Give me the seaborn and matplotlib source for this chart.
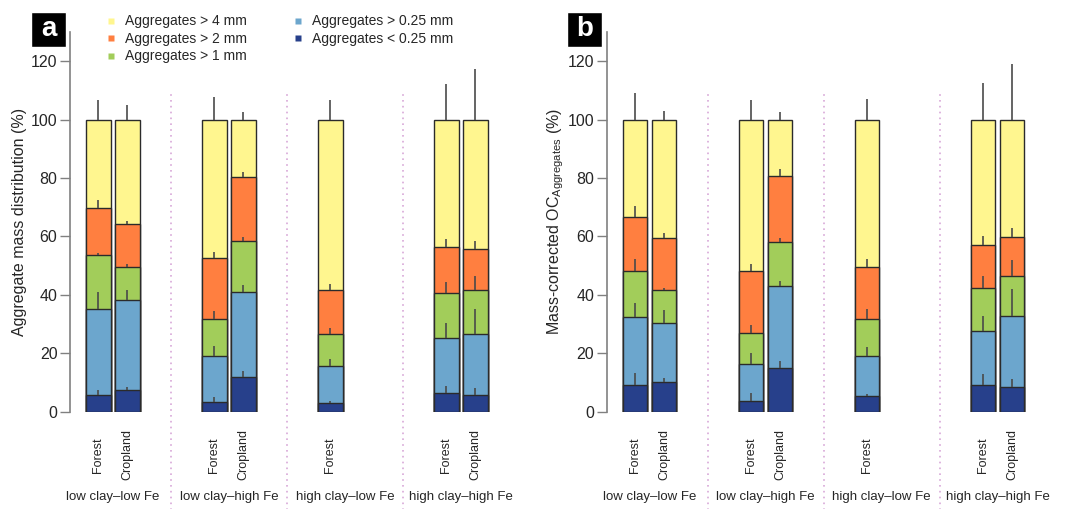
import numpy as np
import pandas as pd
import matplotlib
matplotlib.use('Agg')
from matplotlib import pyplot as plt
from matplotlib.lines import Line2D
from matplotlib.patches import Rectangle
import seaborn as sns

groups = ['low clay–low Fe', 'low clay–high Fe', 'high clay–low Fe', 'high clay–high Fe']
bar_group = [0, 0, 1, 1, 2, 3, 3]
bar_land = ['Forest', 'Cropland', 'Forest', 'Cropland', 'Forest', 'Forest', 'Cropland']

classes = ['Aggregates < 0.25 mm', 'Aggregates > 0.25 mm', 'Aggregates > 1 mm',
           'Aggregates > 2 mm', 'Aggregates > 4 mm']
class_colors = ['#27408B', '#6CA6CD', '#A2CD5A', '#FF7F40', '#FFF68F']

# (a) aggregate mass distribution (%), segment means and SDs
mass_lt025 = [5.6, 7.4, 3.3, 11.9, 3.0, 6.3, 5.8]
mass_gt025 = [29.4, 30.7, 15.7, 29.0, 12.6, 19.1, 20.8]
mass_gt1 = [18.5, 11.5, 12.6, 17.6, 11.0, 15.4, 15.0]
mass_gt2 = [16.3, 14.6, 20.9, 21.7, 15.2, 15.6, 14.0]
mass_gt4 = [30.2, 35.8, 47.5, 19.8, 58.2, 43.6, 44.4]
mass_sd_lt025 = [1.8, 0.9, 1.6, 2.0, 0.8, 2.5, 2.2]
mass_sd_gt025 = [5.9, 3.7, 3.6, 2.5, 2.4, 5.0, 8.4]
mass_sd_gt1 = [1.0, 0.9, 2.9, 1.4, 2.0, 3.7, 4.9]
mass_sd_gt2 = [2.6, 1.1, 2.1, 1.7, 1.9, 2.7, 2.8]
mass_sd_gt4 = [6.8, 5.1, 7.8, 2.6, 6.6, 12.1, 17.4]

# (b) mass-corrected OC in aggregates (%)
oc_lt025 = [9.0, 10.1, 3.6, 14.9, 5.4, 9.2, 8.3]
oc_gt025 = [23.3, 20.1, 12.6, 28.0, 13.6, 18.4, 24.3]
oc_gt1 = [16.0, 11.3, 10.9, 15.3, 12.9, 14.6, 13.8]
oc_gt2 = [18.5, 18.0, 21.2, 22.4, 17.5, 15.0, 13.3]
oc_gt4 = [33.2, 40.5, 51.7, 19.4, 50.6, 42.8, 40.3]
oc_sd_lt025 = [4.2, 1.6, 2.8, 2.4, 0.6, 3.6, 2.8]
oc_sd_gt025 = [4.9, 4.6, 3.9, 1.8, 3.0, 5.1, 9.5]
oc_sd_gt1 = [4.0, 1.0, 2.5, 1.4, 3.2, 4.4, 5.4]
oc_sd_gt2 = [3.6, 1.6, 2.3, 2.4, 2.8, 3.0, 3.1]
oc_sd_gt4 = [9.2, 2.9, 6.8, 2.6, 7.0, 12.5, 19.2]

sns.set_style('ticks')
plt.rcParams['font.family'] = ['Liberation Sans', 'DejaVu Sans']

pos = [4 * g + (0 if l == 'Forest' else 1) for g, l in zip(bar_group, bar_land)]
W, H = 1067, 509


def draw_panel(ax, segs, sds, ylabel, lpad):
    cum = np.cumsum(np.array(segs), axis=0)
    for i in reversed(range(len(classes))):
        df = pd.DataFrame({'pos': pos, 'top': cum[i]})
        sns.barplot(data=df, x='pos', y='top', native_scale=True, width=0.85,
                    color=class_colors[i], saturation=1, edgecolor='#2b2b2b',
                    linewidth=1, errorbar=None, ax=ax)
    for i in range(len(classes)):
        ax.vlines(pos, cum[i], cum[i] + np.array(sds[i]), colors='#4a4a4a',
                  linewidth=1.2, zorder=5)
    ax.vlines([2.5, 6.5, 10.5], -34, 110, colors='#d8a8d8', linestyles=(0, (1, 2.5)),
              linewidth=1.2, clip_on=False)
    ax.set_xlim(-0.98, 14.3)
    ax.set_ylim(0, 130)
    ax.set_yticks(range(0, 121, 20))
    ax.set_xticks(pos, bar_land)
    plt.setp(ax.get_xticklabels(), rotation=90, va='center', fontsize=9)
    ax.tick_params(axis='x', length=0, pad=31)
    ax.tick_params(axis='y', length=7, width=1, color='#808080', labelsize=11.5, pad=2)
    for s in ['top', 'right', 'bottom']:
        ax.spines[s].set_visible(False)
    ax.spines['left'].set_color('#808080')
    ax.spines['left'].set_linewidth(1.2)
    ax.set_xlabel('')
    ax.set_ylabel(ylabel, fontsize=11.5, labelpad=lpad)
    for g, name in enumerate(groups):
        ax.text(4 * g + 0.5, -0.225, name, transform=ax.get_xaxis_transform(),
                ha='center', va='center', fontsize=9.5)


fig = plt.figure(figsize=(W / 100, H / 100), dpi=100)
ax_a = fig.add_axes([70 / W, 1 - 411.7 / H, 443 / W, 379.7 / H])
ax_b = fig.add_axes([606.7 / W, 1 - 411.7 / H, 443 / W, 379.7 / H])

draw_panel(ax_a, [mass_lt025, mass_gt025, mass_gt1, mass_gt2, mass_gt4],
           [mass_sd_lt025, mass_sd_gt025, mass_sd_gt1, mass_sd_gt2, mass_sd_gt4],
           'Aggregate mass distribution (%)', 2.5)
draw_panel(ax_b, [oc_lt025, oc_gt025, oc_gt1, oc_gt2, oc_gt4],
           [oc_sd_lt025, oc_sd_gt025, oc_sd_gt1, oc_sd_gt2, oc_sd_gt4],
           'Mass-corrected OC$_{\\mathregular{Aggregates}}$ (%)', 1)

# panel letters
for letter, x0 in [('a', 31), ('b', 567)]:
    fig.patches.append(Rectangle((x0 / W, 1 - 47 / H), 35 / W, 35 / H,
                                 transform=fig.transFigure, facecolor='black'))
    fig.text((x0 + 17.5) / W, 1 - 29.5 / H, letter, color='white', fontsize=20,
             fontweight='bold', ha='center', va='center')

# legend
order = [4, 3, 2, 1, 0]
handles = [Line2D([], [], marker='s', linestyle='', markersize=5,
                  markerfacecolor=class_colors[i], markeredgecolor='none') for i in order]
fig.legend(handles, [classes[i] for i in order], loc='upper left',
           bbox_to_anchor=(105.5 / W, 1 - 14.5 / H), ncol=2, frameon=False, fontsize=10,
           handlelength=0.8, handletextpad=0.6, columnspacing=3.3, labelspacing=0.25,
           borderpad=0, borderaxespad=0)

fig.savefig('out.png', dpi=100)
